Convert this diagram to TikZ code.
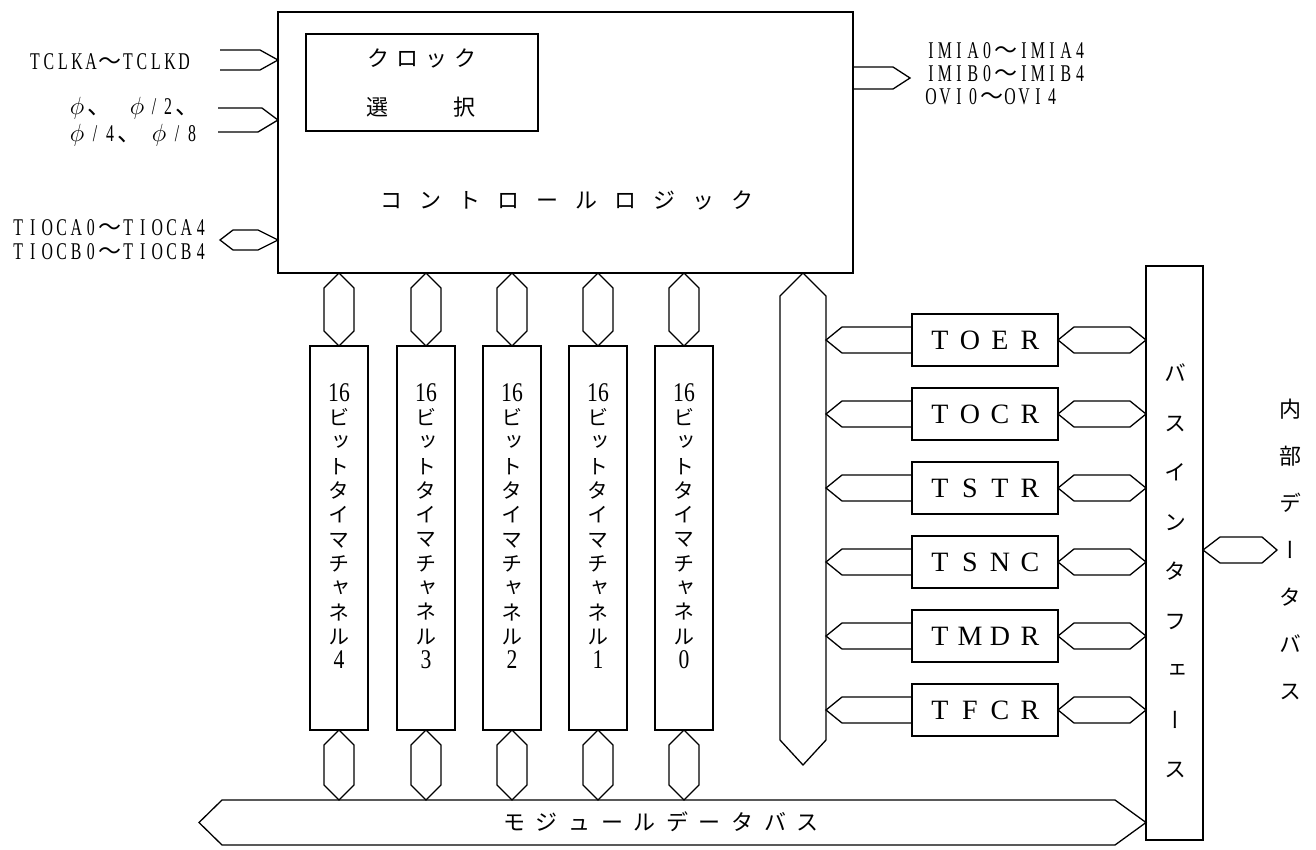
\documentclass[tikz,border=0pt]{standalone}
\usepackage{fontspec}
\setmainfont{Liberation Serif}
\newfontfamily\jp{Noto Sans CJK JP}
\newfontfamily\jpv[RawFeature=+vert]{Noto Sans CJK JP}
\newfontfamily\lat[FakeStretch=0.66]{Liberation Serif}
\usetikzlibrary{calc}
\newlength\cpitch
\def\jspread#1{\ifx#1\relax\else\makebox[\cpitch]{#1}\expandafter\jspread\fi}
\newcommand\wv{\smash{\jp\fontsize{23}{23}\selectfont ～}}
\newcommand\tenc{\smash{\jp 、}}
\begin{document}
\begin{tikzpicture}[x=1pt,y=-1pt,
  thickbox/.style={draw, line width=2.6pt, inner sep=0pt, outer sep=0pt},
  thinbox/.style={draw, line width=1.3pt, inner sep=0pt, outer sep=0pt},
  hexline/.style={line width=1.3pt, line join=miter},
  lbl/.style={inner sep=0pt, outer sep=0pt},
  jtext/.style={lbl, font=\jp\fontsize{22}{22}\selectfont},
  sig/.style={lbl, font=\lat\fontsize{24}{24}\selectfont},
  regtext/.style={lbl, font=\fontsize{28}{28}\selectfont},
  chtext/.style={lbl, align=center, font=\jpv\fontsize{21}{24.3}\selectfont}
]
\fill[white] (0,0) rectangle (1316,849);
\useasboundingbox (0,0) rectangle (1316,849);

% control logic block
\node[thickbox, minimum width=575pt, minimum height=261pt, anchor=north west] (ctrl) at (278,12) {};
\node[thinbox, minimum width=232pt, minimum height=97pt, anchor=north west] (clk) at (306,34) {};
\node[jtext] (clk1) at (422,58) {\setlength\cpitch{29pt}\jspread クロック\relax};
\node[jtext] (clk2) at (421,107) {\setlength\cpitch{87pt}\jspread 選択\relax};
\node[jtext] (logic) at (567,200) {\setlength\cpitch{39pt}\jspread コントロールロジック\relax};

% inputs on the left
\coordinate (tclk) at (220,60);
\draw[hexline] ($(tclk)+(0,-10)$) -- ($(tclk)+(40,-10)$) -- (ctrl.west |- tclk) -- ($(tclk)+(40,10)$) -- ($(tclk)+(0,10)$);
\node[sig, anchor=east] (tclklbl) at (191,62) {\setlength\cpitch{14pt}\jspread TCLKA\relax\wv\jspread TCLKD\relax};

\coordinate (phi) at (218,120);
\draw[hexline] ($(phi)+(0,-12)$) -- ($(phi)+(44,-12)$) -- (ctrl.west |- phi) -- ($(phi)+(40,12)$) -- ($(phi)+(0,12)$);
\node[sig, anchor=west] (phi1) at (67,108) {\makebox[20pt]{$\phi$}\makebox[40pt][l]{\tenc}\makebox[20pt]{$\phi$}\makebox[14pt]{/}\makebox[14pt]{2}\tenc};
\node[sig, anchor=west] (phi2) at (67,135) {\makebox[20pt]{$\phi$}\makebox[16pt]{/}\makebox[14pt]{4}\makebox[32pt][l]{\tenc}\makebox[20pt]{$\phi$}\makebox[16pt]{/}\makebox[14pt]{8}};

\coordinate (tioc) at (220,240);
\draw[hexline] (tioc) -- ++(13,-10) -- ($(ctrl.west |- tioc)+(-20,-10)$) -- (ctrl.west |- tioc) -- ($(ctrl.west |- tioc)+(-20,10)$) -- ($(tioc)+(13,10)$) -- cycle;
\node[sig, anchor=east] (tioc1) at (208,228) {\setlength\cpitch{14.5pt}\jspread TIOCA0\relax\wv\jspread TIOCA4\relax};
\node[sig, anchor=east] (tioc2) at (208,252) {\setlength\cpitch{14.5pt}\jspread TIOCB0\relax\wv\jspread TIOCB4\relax};

% outputs
\coordinate (imtip) at (910,78);
\draw[hexline] ($(ctrl.east |- imtip)+(0,-11)$) -- ($(imtip)+(-17,-11)$) -- (imtip) -- ($(imtip)+(-17,11)$) -- ($(ctrl.east |- imtip)+(0,11)$);
\node[sig, anchor=west] (im1) at (924,51) {\setlength\cpitch{14pt}\jspread IMIA0\relax\wv\jspread IMIA4\relax};
\node[sig, anchor=west] (im2) at (924,74) {\setlength\cpitch{14pt}\jspread IMIB0\relax\wv\jspread IMIB4\relax};
\node[sig, anchor=west] (im3) at (924,97) {\setlength\cpitch{14pt}\jspread OVI0\relax\wv\jspread OVI4\relax};

% module data bus
\node[lbl, minimum width=893pt, minimum height=45pt] (mbus) at (668.5,822.5) {};
\node[jtext] (mbuslbl) at (661,822) {\setlength\cpitch{32.6pt}\jspread モジュールデータバス\relax};

% bus interface
\node[thickbox, minimum width=57pt, minimum height=574pt] (bi) at (1174.5,553) {};
\node[lbl, align=center, font=\jpv\fontsize{22}{49.5}\selectfont] (bilbl) at (1175,571) {バ\\ス\\イ\\ン\\タ\\フ\\ェ\\ー\\ス};

\draw[hexline] (mbus.north west) -- (mbus.north east) -- (bi.west |- mbus.east) -- (mbus.south east) -- (mbus.south west) -- ($(mbus.west)+(-23,0)$) -- cycle;

% timer channels
\foreach \n/\x in {4/339,3/426,2/512,1/598,0/684} {
  \node[thickbox, minimum width=58pt, minimum height=384pt, anchor=north] (ch\n) at (\x,346) {};
  \node[chtext] (cht\n) at (\x,526) {{\fontspec[FakeStretch=0.8]{Liberation Serif}\fontsize{27}{24.3}\selectfont 16}\\ビ\\ッ\\ト\\タ\\イ\\マ\\チ\\ャ\\ネ\\ル\\{\fontspec[FakeStretch=0.8]{Liberation Serif}\fontsize{27}{24.3}\selectfont \n}};
  \draw[hexline] (ctrl.south -| ch\n.north) -- ++(15,15) -- ($(ch\n.north)+(15,-15)$) -- (ch\n.north) -- ($(ch\n.north)+(-15,-15)$) -- ($(ctrl.south -| ch\n.north)+(-15,15)$) -- cycle;
  \draw[hexline] (ch\n.south) -- ++(15,15) -- ($(mbus.north -| ch\n.south)+(15,-15)$) -- (mbus.north -| ch\n.south) -- ($(mbus.north -| ch\n.south)+(-15,-15)$) -- ($(ch\n.south)+(-15,15)$) -- cycle;
}

% vertical internal bus
\node[lbl, minimum width=46pt, minimum height=444pt] (vbus) at (803,518) {};
\draw[hexline] (ctrl.south -| vbus.north) -- (vbus.north east) -- (vbus.south east) -- ($(vbus.south)+(0,25)$) -- (vbus.south west) -- (vbus.north west) -- cycle;

% registers
\foreach \r/\y in {TOER/340,TOCR/414,TSTR/488,TSNC/562,TMDR/636,TFCR/710} {
  \node[thickbox, regtext, minimum width=146pt, minimum height=52pt] (r\r) at (985,\y) {\setlength\cpitch{30pt}\expandafter\jspread\r\relax};
  \draw[hexline] ($(r\r.west)+(0,-13)$) -- ($(vbus.east |- r\r.west)+(16,-13)$) -- (vbus.east |- r\r.west) -- ($(vbus.east |- r\r.west)+(16,13)$) -- ($(r\r.west)+(0,13)$);
  \draw[hexline] (r\r.east) -- ++(16,-13) -- ($(bi.west |- r\r.east)+(-16,-13)$) -- (bi.west |- r\r.east) -- ($(bi.west |- r\r.east)+(-16,13)$) -- ($(r\r.east)+(16,13)$) -- cycle;
}

% internal data bus
\coordinate (ibtip) at (1277,550);
\draw[hexline] (bi.east |- ibtip) -- ++(17,-13) -- ($(ibtip)+(-15,-13)$) -- (ibtip) -- ($(ibtip)+(-15,13)$) -- ($(bi.east |- ibtip)+(17,13)$) -- cycle;
\node[lbl, align=center, font=\jpv\fontsize{22}{47}\selectfont] (iblbl) at (1290,549) {内\\部\\デ\\ー\\タ\\バ\\ス};
\end{tikzpicture}
\end{document}
